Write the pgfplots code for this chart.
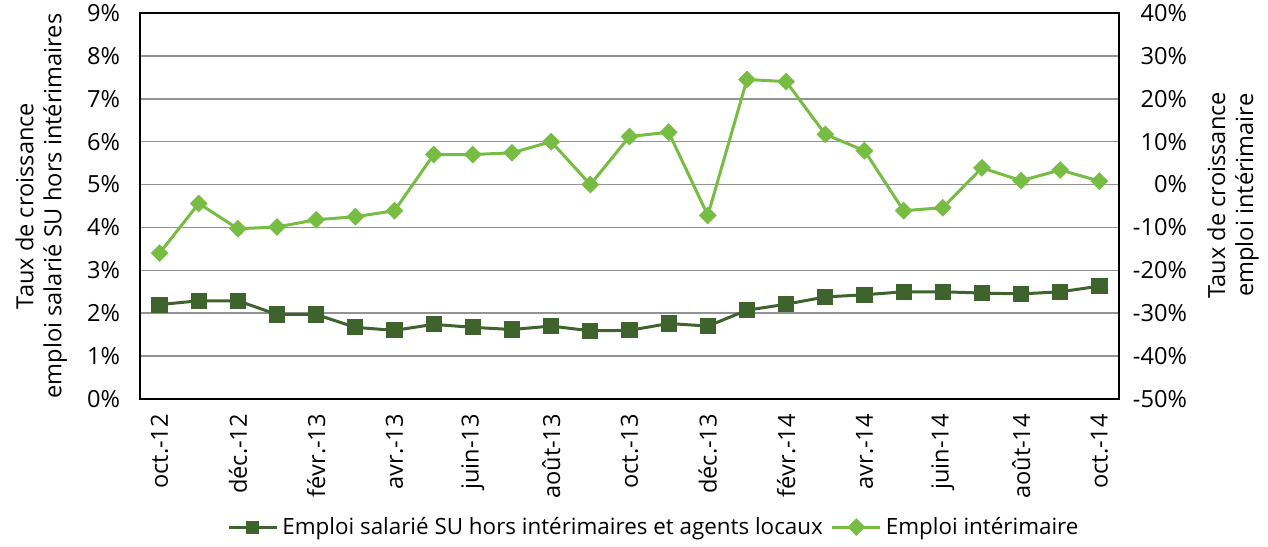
\documentclass[border=0pt]{standalone}
\usepackage{pgfplots}
\pgfplotsset{compat=1.18}
\usepackage{fontspec}
\setmainfont{Open Sans}
\usetikzlibrary{calc}
\definecolor{dkg}{HTML}{3F632D}
\definecolor{ltg}{HTML}{77BC43}
\begin{document}
\begin{tikzpicture}[font=\fontsize{11.8}{14}\selectfont]
\pgfplotsset{
  base/.style={
    scale only axis, width=489.5pt, height=193pt,
    xmin=-0.5, xmax=24.5,
    major tick length=0pt,
    /pgf/number format/assume math mode=true,
    tick label style={font=\fontsize{11.8}{14}\selectfont},
    label style={font=\fontsize{11.8}{14}\selectfont},
    axis line style={black, line width=1pt},
  },
  legline/.style={legend image code/.code={
    \draw[mark repeat=2, mark phase=2] plot coordinates {(0pt,0pt)(12pt,0pt)(24pt,0pt)};}},
}
\begin{axis}[base,
  ymin=0, ymax=9, ytick={0,1,...,9},
  yticklabel pos=left,
  yticklabel={\pgfmathprintnumber{\tick}\%},
  yticklabel style={xshift=-6.5pt},
  ymajorgrids, grid style={gray!85, line width=0.8pt},
  xtick={0,2,...,24},
  xticklabels={oct.-12,déc.-12,févr.-13,avr.-13,juin-13,août-13,oct.-13,déc.-13,févr.-14,avr.-14,juin-14,août-14,oct.-14},
  xticklabel style={rotate=90, anchor=east},
  xticklabel shift=4pt,
  ylabel={Taux de croissance\\emploi salarié SU hors intérimaires},
  ylabel style={at={(rel axis cs:-0.101,0.5)}, anchor=center, align=center},
]
\addplot[color=dkg, line width=1.5pt, mark=square*, mark size=3.3pt, mark options={solid}]
coordinates {
(0,2.20) (1,2.29) (2,2.29) (3,1.97) (4,1.97) (5,1.67) (6,1.60) (7,1.74) (8,1.67) (9,1.62)
(10,1.70) (11,1.59) (12,1.60) (13,1.76) (14,1.70) (15,2.07) (16,2.21) (17,2.38) (18,2.43)
(19,2.50) (20,2.50) (21,2.47) (22,2.45) (23,2.50) (24,2.63)
};
\coordinate (SW) at (rel axis cs:0,0);
\coordinate (NE) at (rel axis cs:1,1);
\end{axis}
\begin{axis}[base,
  ymin=-50, ymax=40, ytick={-50,-40,...,40},
  axis y line*=right, axis x line=none,
  yticklabel={\pgfmathprintnumber{\tick}\%},
  yticklabel style={anchor=east, xshift=37.5pt},
  ylabel={Taux de croissance\\emploi intérimaire},
  ylabel style={at={(rel axis cs:1.1165,0.528)}, anchor=center, align=center, rotate=0},
  legend style={at={(rel axis cs:0.526,-0.332)}, anchor=center, draw=none, fill=none,
    legend columns=2, font=\fontsize{11.2}{14}\selectfont,
    /tikz/every even column/.append style={column sep=2pt}},
  legend cell align=left,
]
\addlegendimage{legline, color=dkg, line width=1.5pt, mark=square*, mark size=2.5pt}
\addlegendentry{Emploi salarié SU hors intérimaires et agents locaux}
\addplot[legline, color=ltg, line width=1.5pt, mark=square*, mark size=2.4pt, mark options={rotate=45}]
coordinates {
(0,-16.0) (1,-4.4) (2,-10.3) (3,-9.9) (4,-8.2) (5,-7.5) (6,-6.1) (7,7.0) (8,7.0) (9,7.4)
(10,10.0) (11,0.0) (12,11.2) (13,12.2) (14,-7.2) (15,24.5) (16,24.0) (17,11.7) (18,7.9)
(19,-6.1) (20,-5.4) (21,3.9) (22,0.9) (23,3.4) (24,0.8)
};
\addlegendentry{Emploi intérimaire}
\end{axis}
\pgfresetboundingbox
\path[use as bounding box] ($(SW)+(-70pt,-74pt)$) rectangle ($(NE)+(74.5pt,6.5pt)$);
\end{tikzpicture}
\end{document}
